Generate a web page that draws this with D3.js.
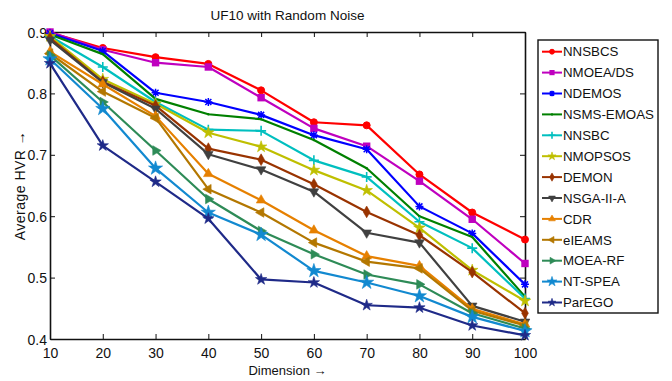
<!DOCTYPE html>
<html><head><meta charset="utf-8">
<script src="https://cdn.jsdelivr.net/npm/d3@7"></script>
<style>
html,body{margin:0;padding:0;background:#fff;}
svg text{font-family:"Liberation Sans",Arial,Helvetica,sans-serif;fill:#111;}
</style></head>
<body><svg id="c" width="672" height="381"></svg>
<script>
const title = "UF10 with Random Noise";
const xLabel = "Dimension \u2192";
const yLabel = "Average HVR \u2192";
const dims = [10,20,30,40,50,60,70,80,90,100];
const xTicks = [10,20,30,40,50,60,70,80,90,100];
const yTicks = [0.4,0.5,0.6,0.7,0.8,0.9];
const names = ["NNSBCS","NMOEA/DS","NDEMOS","NSMS-EMOAS","NNSBC","NMOPSOS","DEMON","NSGA-II-A","CDR","eIEAMS","MOEA-RF","NT-SPEA","ParEGO"];
const NNSBCS    = [0.899,0.874,0.859,0.848,0.805,0.753,0.748,0.668,0.606,0.562];
const NMOEA_DS  = [0.900,0.871,0.850,0.843,0.793,0.743,0.714,0.657,0.595,0.523];
const NDEMOS    = [0.898,0.869,0.801,0.786,0.765,0.732,0.709,0.616,0.572,0.489];
const NSMS_EMOAS= [0.896,0.864,0.791,0.766,0.758,0.724,0.678,0.600,0.566,0.469];
const NNSBC     = [0.893,0.843,0.786,0.741,0.739,0.691,0.664,0.591,0.548,0.466];
const NMOPSOS   = [0.893,0.823,0.783,0.736,0.713,0.675,0.642,0.581,0.512,0.462];
const DEMON     = [0.890,0.819,0.780,0.710,0.692,0.652,0.607,0.569,0.509,0.442];
const NSGA_II_A = [0.887,0.818,0.775,0.701,0.676,0.640,0.573,0.557,0.454,0.428];
const CDR       = [0.868,0.815,0.763,0.669,0.626,0.577,0.535,0.519,0.449,0.424];
const eIEAMS    = [0.865,0.803,0.760,0.644,0.606,0.557,0.526,0.515,0.446,0.422];
const MOEA_RF   = [0.862,0.786,0.707,0.628,0.576,0.538,0.505,0.489,0.442,0.417];
const NT_SPEA   = [0.856,0.775,0.678,0.606,0.570,0.511,0.492,0.470,0.436,0.413];
const ParEGO    = [0.849,0.715,0.656,0.596,0.497,0.492,0.455,0.451,0.422,0.406];
const seriesValues = [NNSBCS,NMOEA_DS,NDEMOS,NSMS_EMOAS,NNSBC,NMOPSOS,DEMON,NSGA_II_A,CDR,eIEAMS,MOEA_RF,NT_SPEA,ParEGO];

const colors = ["#ff0000","#bf00bf","#0000ff","#008000","#00bfbf","#bfbf00","#993300","#404040","#e68000","#b37700","#2e8b57","#1289d0","#1f2a88"];
const markers = ["circle","square","asterisk","dot","plus","star","diamond","tridown","triup","trileft","triright","star5","star6"];

const svg = d3.select("#c");
const L=50,R=525,T=32,B=339;
const x = d3.scaleLinear().domain([10,100]).range([L,R]);
const y = d3.scaleLinear().domain([0.4,0.9]).range([B,T]);

svg.append("text").attr("x",(L+R)/2).attr("y",20).attr("text-anchor","middle").attr("font-size",13.5).text(title);

const xb = svg.append("g").attr("transform",`translate(0,${B})`).call(d3.axisBottom(x).tickValues(xTicks).tickSizeInner(-5).tickSizeOuter(0).tickPadding(9).tickFormat(d3.format("d")));
const xt = svg.append("g").attr("transform",`translate(0,${T})`).call(d3.axisTop(x).tickValues(xTicks).tickSizeInner(-5).tickSizeOuter(0).tickFormat(""));
const yl = svg.append("g").attr("transform",`translate(${L},0)`).call(d3.axisLeft(y).tickValues(yTicks).tickSizeInner(-5).tickSizeOuter(0).tickPadding(3).tickFormat(d3.format(".1f")));
const yr = svg.append("g").attr("transform",`translate(${R},0)`).call(d3.axisRight(y).tickValues(yTicks).tickSizeInner(-5).tickSizeOuter(0).tickFormat(""));
[xb,xt,yl,yr].forEach(g=>{
  g.select(".domain").attr("stroke","#111").attr("stroke-width",1.6);
  g.selectAll(".tick line").attr("stroke","#111").attr("stroke-width",1);
  g.selectAll(".tick text").attr("font-size",14).attr("fill","#111").attr("font-family","Liberation Sans, Arial, sans-serif");
});
yl.selectAll(".tick text").attr("dy","0.36em");

svg.append("text").attr("x",(L+R)/2).attr("y",375).attr("text-anchor","middle").attr("font-size",13).text(xLabel);
svg.append("text").attr("transform",`translate(25,${(T+B)/2}) rotate(-90)`).attr("text-anchor","middle").attr("font-size",14).attr("letter-spacing","0.5").text(yLabel);

function drawMarker(g,type,cx,cy,col,k){
  const s = k||1;
  if(type==="circle") g.append("circle").attr("cx",cx).attr("cy",cy).attr("r",3.5*s).attr("fill",col).attr("stroke",col);
  else if(type==="square") g.append("rect").attr("x",cx-3.7*s).attr("y",cy-3.7*s).attr("width",7.4*s).attr("height",7.4*s).attr("fill",col);
  else if(type==="asterisk"){
    const a=4*s,b=3*s;
    const p = `M${cx-a},${cy}L${cx+a},${cy}M${cx-b},${cy-b}L${cx+b},${cy+b}M${cx-b},${cy+b}L${cx+b},${cy-b}M${cx},${cy-a}L${cx},${cy+a}`;
    g.append("path").attr("d",p).attr("stroke",col).attr("stroke-width",1.5).attr("fill","none");
  }
  else if(type==="dot") g.append("circle").attr("cx",cx).attr("cy",cy).attr("r",1.2).attr("fill",col);
  else if(type==="plus"){
    const a=5*s;
    const p = `M${cx-a},${cy}L${cx+a},${cy}M${cx},${cy-a}L${cx},${cy+a}`;
    g.append("path").attr("d",p).attr("stroke",col).attr("stroke-width",1.6).attr("fill","none");
  }
  else {
    let sym, sz, rot=0;
    if(type==="star"){sym=d3.symbolStar;sz=42;}
    else if(type==="diamond"){sym=d3.symbolDiamond;sz=40;}
    else if(type==="tridown"){sym=d3.symbolTriangle;sz=40;rot=180;}
    else if(type==="triup"){sym=d3.symbolTriangle;sz=40;}
    else if(type==="trileft"){sym=d3.symbolTriangle;sz=40;rot=-90;}
    else if(type==="triright"){sym=d3.symbolTriangle;sz=40;rot=90;}
    else if(type==="star5"){sym=d3.symbolStar;sz=62;}
    else if(type==="star6"){sym=d3.symbolStar;sz=40;}
    g.append("path").attr("d",d3.symbol().type(sym).size(sz*s*s)()).attr("transform",`translate(${cx},${cy}) rotate(${rot})`).attr("fill",col).attr("stroke",col).attr("stroke-width",0.6);
  }
}

const line = d3.line().x((d,i)=>x(dims[i])).y(d=>y(d));
const plot = svg.append("g");
seriesValues.forEach((vals,k)=>{
  const g = plot.append("g");
  g.append("path").datum(vals).attr("d",line).attr("fill","none").attr("stroke",colors[k]).attr("stroke-width",2.2).attr("stroke-linejoin","round");
  vals.forEach((v,i)=>drawMarker(g,markers[k],x(dims[i]),y(v),colors[k],1));
});

const lg = svg.append("g");
lg.append("rect").attr("x",538).attr("y",40).attr("width",120).attr("height",273).attr("fill","#fff").attr("stroke","#111").attr("stroke-width",1.4);
names.forEach((n,k)=>{
  const yy = 51.7 + k*20.9;
  lg.append("line").attr("x1",542).attr("x2",562).attr("y1",yy).attr("y2",yy).attr("stroke",colors[k]).attr("stroke-width",2);
  drawMarker(lg,markers[k],552,yy,colors[k],0.7);
  lg.append("text").attr("x",563).attr("y",yy).attr("dy","0.36em").attr("font-size",13.3).text(n);
});
</script></body></html>
